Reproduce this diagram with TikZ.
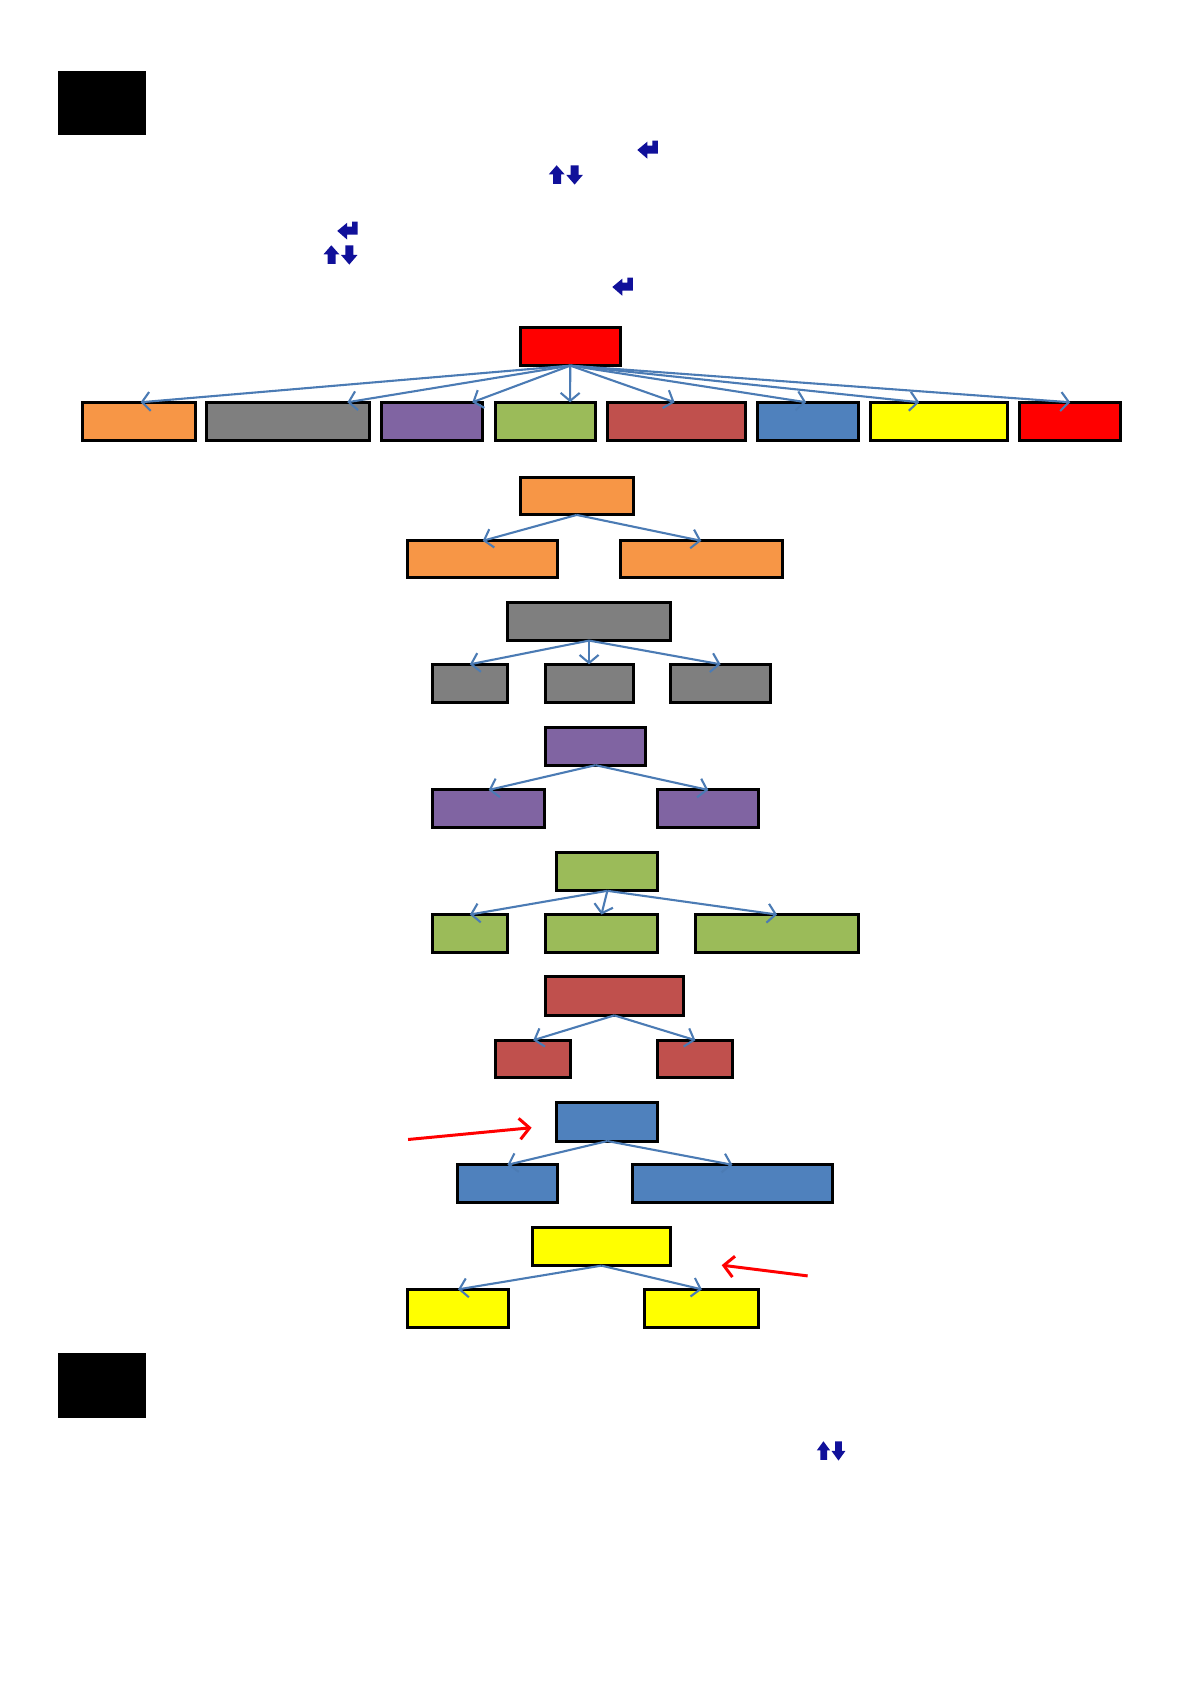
\documentclass[tikz,border=0pt]{standalone}
\usepackage{xcolor}
\usepackage{tikz}
\usetikzlibrary{arrows.meta,positioning,calc,fit}

\definecolor{orangebox}{HTML}{F79646}
\definecolor{graybox}{HTML}{7F7F7F}
\definecolor{purplebox}{HTML}{8064A2}
\definecolor{greenbox}{HTML}{9BBB59}
\definecolor{brownbox}{HTML}{C0504D}
\definecolor{bluebox}{HTML}{4F81BD}
\definecolor{yellowbox}{HTML}{FFFF00}
\definecolor{iconblue}{HTML}{10109A}

\tikzset{
  box/.style={draw=black,line width=3pt,fill=#1,inner sep=-0.6pt,outer sep=0pt},
  block/.style={fill=black,inner sep=0pt,outer sep=0pt},
  link/.style={-{Straight Barb[length=8pt,width=19pt]},line width=2.1pt,bluebox!95!black},
  redmark/.style={-{Straight Barb[length=10pt,width=21pt]},line width=3pt,red},
  returnicon/.pic={\fill[iconblue] (0,9.3) -- (10,1) -- (10,5) -- (15,5) -- (15,0) -- (20.5,0) -- (20.5,13) -- (10,13) -- (10,18) -- cycle;},
  updownicon/.pic={\fill[iconblue] (7.3,0) -- (15.3,9) -- (11.7,9) -- (11.7,18.5) -- (3.7,18.5) -- (3.7,9) -- (-0.5,9) -- cycle;
    \fill[iconblue] (21.3,0) -- (29.3,0) -- (29.3,9.7) -- (33.5,9.7) -- (25.3,19.3) -- (17,9.7) -- (21.3,9.7) -- cycle;}
}

\begin{document}
\begin{tikzpicture}[x=1.074pt,y=-1.074pt]
\useasboundingbox (0,0) rectangle (1109,1568);

\node[block,fit={(54,66) (136,126)}] (topblock) {};
\node[block,fit={(54,1260) (136,1320)}] (lowblock) {};

\pic[scale=0.93] at (593.4,131) {returnicon};
\pic[scale=0.93] at (314,206.4) {returnicon};
\pic[scale=0.93] at (570.1,258.6) {returnicon};
\pic[scale=0.93] at (511.5,153.9) {updownicon};
\pic[scale=0.93] at (301.7,228.4) {updownicon};
\pic[xscale=0.78,yscale=0.93] at (761,1342) {updownicon};

\node[box=red,fit={(484,304) (578,341)}] (root) {};
\node[box=orangebox,fit={(76,374) (183,411)}] (orange) {};
\node[box=graybox,fit={(192,374) (345,411)}] (gray) {};
\node[box=purplebox,fit={(355,374) (450,411)}] (purple) {};
\node[box=greenbox,fit={(461,374) (555,411)}] (green) {};
\node[box=brownbox,fit={(565,374) (695,411)}] (brown) {};
\node[box=bluebox,fit={(705,374) (800,411)}] (blue) {};
\node[box=yellowbox,fit={(810,374) (939,411)}] (yellowb) {};
\node[box=red,fit={(949,374) (1044,411)}] (redb) {};

\draw[link] (root.south) -- ([xshift=1.5pt]orange.north);
\draw[link] (root.south) -- ([xshift=59pt]gray.north);
\draw[link] (root.south) -- ([xshift=40pt]purple.north);
\draw[link] (root.south) -- ([xshift=24.5pt]green.north);
\draw[link] (root.south) -- ([xshift=-2pt]brown.north);
\draw[link] (root.south) -- ([xshift=-2pt]blue.north);
\draw[link] (root.south) -- ([xshift=-20pt]yellowb.north);
\draw[link] (root.south) -- (redb.north);

\node[box=orangebox,fit={(484,444) (590,480)}] (orangetop) {};
\node[box=orangebox,fit={(379,503) (520,538)}] (orangea) {};
\node[box=orangebox,fit={(577,503) (729,538)}] (orangeb) {};
\draw[link] (orangetop.south) -- (orangea.north);
\draw[link] (orangetop.south) -- (orangeb.north);

\node[box=graybox,fit={(472,560) (625,597)}] (graytop) {};
\node[box=graybox,fit={(402,618) (473,655)}] (graya) {};
\node[box=graybox,fit={(507,618) (590,655)}] (grayb) {};
\node[box=graybox,fit={(624,618) (718,655)}] (grayc) {};
\draw[link] (graytop.south) -- (graya.north);
\draw[link] (graytop.south) -- (grayb.north);
\draw[link] (graytop.south) -- (grayc.north);

\node[box=purplebox,fit={(507,677) (602,713)}] (purpletop) {};
\node[box=purplebox,fit={(402,735) (508,771)}] (purplea) {};
\node[box=purplebox,fit={(612,735) (707,771)}] (purpleb) {};
\draw[link] (purpletop.south) -- (purplea.north);
\draw[link] (purpletop.south) -- (purpleb.north);

\node[box=greenbox,fit={(518,793) (613,830)}] (greentop) {};
\node[box=greenbox,fit={(402,851) (473,887)}] (greena) {};
\node[box=greenbox,fit={(507,851) (613,887)}] (greenb) {};
\node[box=greenbox,fit={(647,851) (800,887)}] (greenc) {};
\draw[link] (greentop.south) -- (greena.north);
\draw[link] (greentop.south) -- (greenb.north);
\draw[link] (greentop.south) -- (greenc.north);

\node[box=brownbox,fit={(507,909) (637,946)}] (browntop) {};
\node[box=brownbox,fit={(461,968) (532,1004)}] (browna) {};
\node[box=brownbox,fit={(612,968) (683,1004)}] (brownb) {};
\draw[link] (browntop.south) -- (browna.north);
\draw[link] (browntop.south) -- (brownb.north);

\node[box=bluebox,fit={(518,1026) (613,1063)}] (bluetop) {};
\node[box=bluebox,fit={(425,1084) (520,1120)}] (bluea) {};
\node[box=bluebox,fit={(588,1084) (776,1120)}] (blueb) {};
\draw[link] (bluetop.south) -- (bluea.north);
\draw[link] (bluetop.south) -- (blueb.north);

\node[box=yellowbox,fit={(495,1142) (625,1179)}] (yellowtop) {};
\node[box=yellowbox,fit={(379,1200) (474,1237)}] (yellowa) {};
\node[box=yellowbox,fit={(600,1200) (707,1237)}] (yellowc) {};
\draw[link] (yellowtop.south) -- (yellowa.north);
\draw[link] (yellowtop.south) -- (yellowc.north);

\coordinate (markonestart) at (380,1061);
\coordinate (markoneend) at (495,1050);
\coordinate (marktwostart) at (752,1188);
\coordinate (marktwoend) at (672,1178);
\draw[redmark] (markonestart) -- (markoneend);
\draw[redmark] (marktwostart) -- (marktwoend);
\end{tikzpicture}
\end{document}
